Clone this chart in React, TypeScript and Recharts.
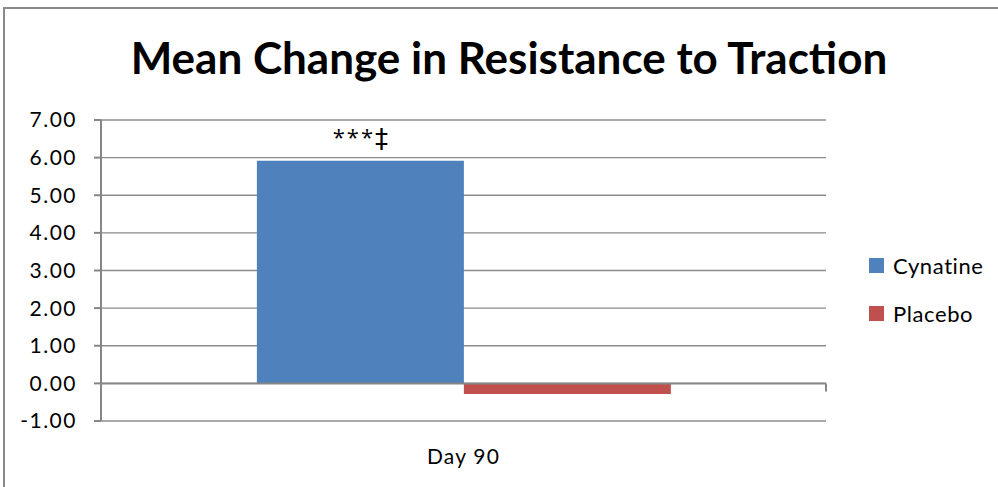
import React from "react";
import {
  BarChart,
  Bar,
  XAxis,
  YAxis,
  CartesianGrid,
  ReferenceLine,
  LabelList,
} from "recharts";

const categories = ["Day 90"];
const cynatine = [5.92];
const placebo = [-0.28];
const significance = ["***‡"];
const yTicks = [-1, 0, 1, 2, 3, 4, 5, 6, 7];

const COLORS = {
  cynatine: "#4F81BD",
  placebo: "#C0504D",
  axis: "#868686",
  grid: "#8c8c8c",
};

const FONT = "Lato, 'Open Sans', sans-serif";

const chartData = categories.map((name, i) => ({
  name,
  cynatine: cynatine[i],
  placebo: placebo[i],
  mark: significance[i],
}));

const legendItems = [
  { label: "Cynatine", color: COLORS.cynatine },
  { label: "Placebo", color: COLORS.placebo },
];

// axis line at zero, with the category tick at its right end
const ZeroAxis = (props: any) => {
  const { x1, y1, x2, y2 } = props;
  return (
    <g>
      <line x1={x1} y1={y1} x2={x2} y2={y2} stroke={COLORS.axis} strokeWidth={2} />
      <line x1={x2} y1={y2} x2={x2} y2={y2 + 8} stroke={COLORS.axis} strokeWidth={2} />
    </g>
  );
};

// asterisks plus a taller dagger sign above the bar
const MarkLabel = (props: any) => {
  const { x, y, width, value } = props;
  const text = String(value);
  const stars = text.slice(0, -1);
  const dagger = text.slice(-1);
  return (
    <text
      x={x + width / 2}
      y={y - 16}
      textAnchor="middle"
      fontFamily="'Open Sans', sans-serif"
      fontSize={22}
      fill="#000"
    >
      <tspan letterSpacing={2}>{stars}</tspan>
      <tspan fontFamily="'DejaVu Sans', sans-serif" fontSize={26} dy={3}>
        {dagger}
      </tspan>
    </text>
  );
};

const LegendBox = () => (
  <div
    style={{
      position: "absolute",
      left: 869,
      top: 241,
      fontFamily: FONT,
      fontSize: 22,
      letterSpacing: 0.6,
      color: "#000",
    }}
  >
    {legendItems.map((item) => (
      <div
        key={item.label}
        style={{ display: "flex", alignItems: "center", height: 48 }}
      >
        <span
          style={{
            width: 15,
            height: 15,
            background: item.color,
            marginRight: 9,
            display: "inline-block",
          }}
        />
        <span>{item.label}</span>
      </div>
    ))}
  </div>
);

export default function App() {
  return (
    <div
      style={{
        position: "absolute",
        left: 0,
        top: 0,
        width: 998,
        height: 487,
        overflow: "hidden",
        background: "#fff",
      }}
    >
      <div
        style={{
          position: "absolute",
          left: 3,
          top: 7,
          width: 1100,
          height: 600,
          border: "2px solid #8a8a8a",
        }}
      />
      <div
        style={{
          position: "absolute",
          left: 0,
          top: 30,
          width: 1018,
          textAlign: "center",
          fontFamily: FONT,
          fontWeight: 700,
          fontSize: 44,
          color: "#000",
          lineHeight: "54px",
        }}
      >
        Mean Change in Resistance to Traction
      </div>
      <div style={{ position: "absolute", left: 0, top: 0 }}>
        <BarChart
          width={998}
          height={487}
          data={chartData}
          margin={{ top: 120, right: 172, left: 0, bottom: 36 }}
          barCategoryGap="21.5%"
          barGap={0}
        >
          <CartesianGrid
            vertical={false}
            stroke={COLORS.grid}
            strokeWidth={1.3}
          />
          <XAxis
            dataKey="name"
            height={30}
            axisLine={false}
            tickLine={false}
            tickSize={0}
            tickMargin={28}
            tick={{ fontFamily: FONT, fontSize: 21, letterSpacing: 1.2, fill: "#000" }}
          />
          <YAxis
            width={101}
            domain={[-1, 7]}
            ticks={yTicks}
            interval={0}
            tickFormatter={(v: number) => v.toFixed(2)}
            axisLine={{ stroke: COLORS.axis, strokeWidth: 2 }}
            tickLine={{ stroke: COLORS.axis, strokeWidth: 2 }}
            tickSize={7}
            tickMargin={17}
            tick={{ fontFamily: FONT, fontSize: 21, letterSpacing: 1.5, fill: "#000" }}
          />
          <Bar
            dataKey="cynatine"
            name="Cynatine"
            fill={COLORS.cynatine}
            isAnimationActive={false}
          >
            <LabelList dataKey="mark" content={<MarkLabel />} />
          </Bar>
          <Bar
            dataKey="placebo"
            name="Placebo"
            fill={COLORS.placebo}
            isAnimationActive={false}
          />
          <ReferenceLine y={0} shape={<ZeroAxis />} />
        </BarChart>
      </div>
      <LegendBox />
    </div>
  );
}
